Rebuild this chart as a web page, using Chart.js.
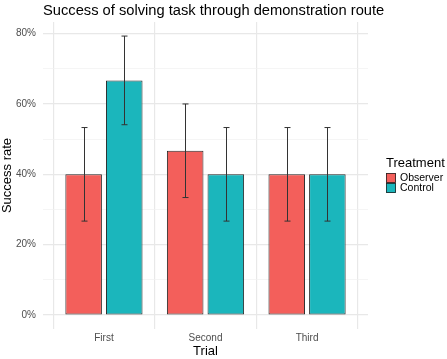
<!DOCTYPE html>
<html>
<head>
<meta charset="utf-8">
<script src="https://cdn.jsdelivr.net/npm/chart.js@4.4.1/dist/chart.umd.min.js"></script>
<style>
  html,body{margin:0;padding:0;background:#fff;}
  #wrap{width:447px;height:359px;position:relative;}
</style>
</head>
<body>
<div id="wrap"><canvas id="c" width="447" height="359"></canvas></div>
<script>
// datos (en %)
const trials = ['First', 'Second', 'Third'];
const treatments = ['Observer', 'Control'];
const observerRate = [40, 46.7, 40];
const controlRate = [66.7, 40, 40];
const observerLow = [26.7, 33.4, 26.7];
const observerHigh = [53.3, 60, 53.3];
const controlLow = [54.1, 26.7, 26.7];
const controlHigh = [79.3, 53.3, 53.3];
const yTicks = [0, 10, 20, 30, 40, 50, 60, 70, 80];

const colors = ['#F35F5B', '#1BB6BC'];
const FONT = 'Liberation Sans, Arial, sans-serif';

const mkData = (vals)=> vals.map((v,i)=>({x:i+1, y:v}));

// barras de error + titulo + leyenda
const extras = {
  id:'extras',
  afterDatasetsDraw(chart){
    const ctx = chart.ctx;
    const ys = chart.scales.y;
    const sets = [[observerLow, observerHigh], [controlLow, controlHigh]];
    ctx.save();
    ctx.strokeStyle = '#333';
    ctx.lineWidth = 1;
    sets.forEach((s, di)=>{
      const meta = chart.getDatasetMeta(di);
      meta.data.forEach((bar, i)=>{
        const x = Math.round(bar.x) + 0.5;
        const y1 = ys.getPixelForValue(s[0][i]);
        const y2 = ys.getPixelForValue(s[1][i]);
        ctx.beginPath();
        ctx.moveTo(x, y1); ctx.lineTo(x, y2);
        ctx.moveTo(x-3, y1); ctx.lineTo(x+3, y1);
        ctx.moveTo(x-3, y2); ctx.lineTo(x+3, y2);
        ctx.stroke();
      });
    });
    ctx.restore();
  },
  afterDraw(chart){
    const ctx = chart.ctx;
    const area = chart.chartArea;
    ctx.save();
    ctx.fillStyle = '#000';
    ctx.font = '14.7px ' + FONT;
    ctx.textBaseline = 'alphabetic';
    ctx.fillText('Success of solving task through demonstration route', area.left, 15);

    // leyenda
    const lx = 386, ly = 173;
    ctx.font = '13px ' + FONT;
    ctx.fillText('Treatment', lx, ly - 6);
    ctx.font = '10.5px ' + FONT;
    treatments.forEach((t, i)=>{
      const y = ly + i*10;
      ctx.fillStyle = colors[i];
      ctx.fillRect(lx, y, 10, 10);
      ctx.strokeStyle = '#222';
      ctx.lineWidth = 0.8;
      ctx.strokeRect(lx+0.5, y+0.5, 9, 9);
      ctx.fillStyle = '#000';
      ctx.textBaseline = 'middle';
      ctx.fillText(t, lx + 14, y + 5.5);
    });
    ctx.restore();
  }
};

new Chart(document.getElementById('c'), {
  type:'bar',
  data:{
    datasets:[
      { label: treatments[0], data: mkData(observerRate), backgroundColor: colors[0], borderColor:'#2a2a2a', borderWidth:1, borderSkipped:false },
      { label: treatments[1], data: mkData(controlRate), backgroundColor: colors[1], borderColor:'#2a2a2a', borderWidth:1, borderSkipped:false }
    ]
  },
  options:{
    responsive:false,
    animation:false,
    categoryPercentage:0.8,
    barPercentage:0.9,
    layout:{ padding:{ top:22, right:79, left:0, bottom:0 } },
    plugins:{ legend:{display:false}, tooltip:{enabled:false}, title:{display:false} },
    scales:{
      x:{
        type:'linear',
        min:0.4, max:3.6,
        offset:false,
        afterBuildTicks:(s)=>{ s.ticks = [1,2,3].map(v=>({value:v})); },
        afterFit:(s)=>{ s.height = 30; },
        grid:{ color:'#E8E8E8', lineWidth:1.2, drawTicks:false },
        border:{ display:false },
        ticks:{ padding:3, color:'#4D4D4D', font:{ family:FONT, size:10 }, callback:(v)=> trials[v-1] || '' },
        title:{ display:true, text:'Trial', color:'#000', font:{ family:FONT, size:13 }, padding:0 }
      },
      y:{
        min:-3.97, max:83.3,
        afterBuildTicks:(s)=>{ s.ticks = yTicks.map(v=>({value:v})); },
        afterFit:(s)=>{ s.width = 43; },
        grid:{ color:(c)=> (c.tick && c.tick.value % 20 === 0) ? '#E8E8E8' : '#F0F0F0', lineWidth:(c)=> (c.tick && c.tick.value % 20 === 0) ? 1.2 : 0.7, drawTicks:false },
        border:{ display:false },
        ticks:{ padding:7, color:'#4D4D4D', font:{ family:FONT, size:10 }, callback:(v)=> v % 20 === 0 ? v + '%' : '' },
        title:{ display:true, text:'Success rate', color:'#000', font:{ family:FONT, size:13 }, padding:0 }
      }
    }
  },
  plugins:[extras]
});
</script>
</body>
</html>
